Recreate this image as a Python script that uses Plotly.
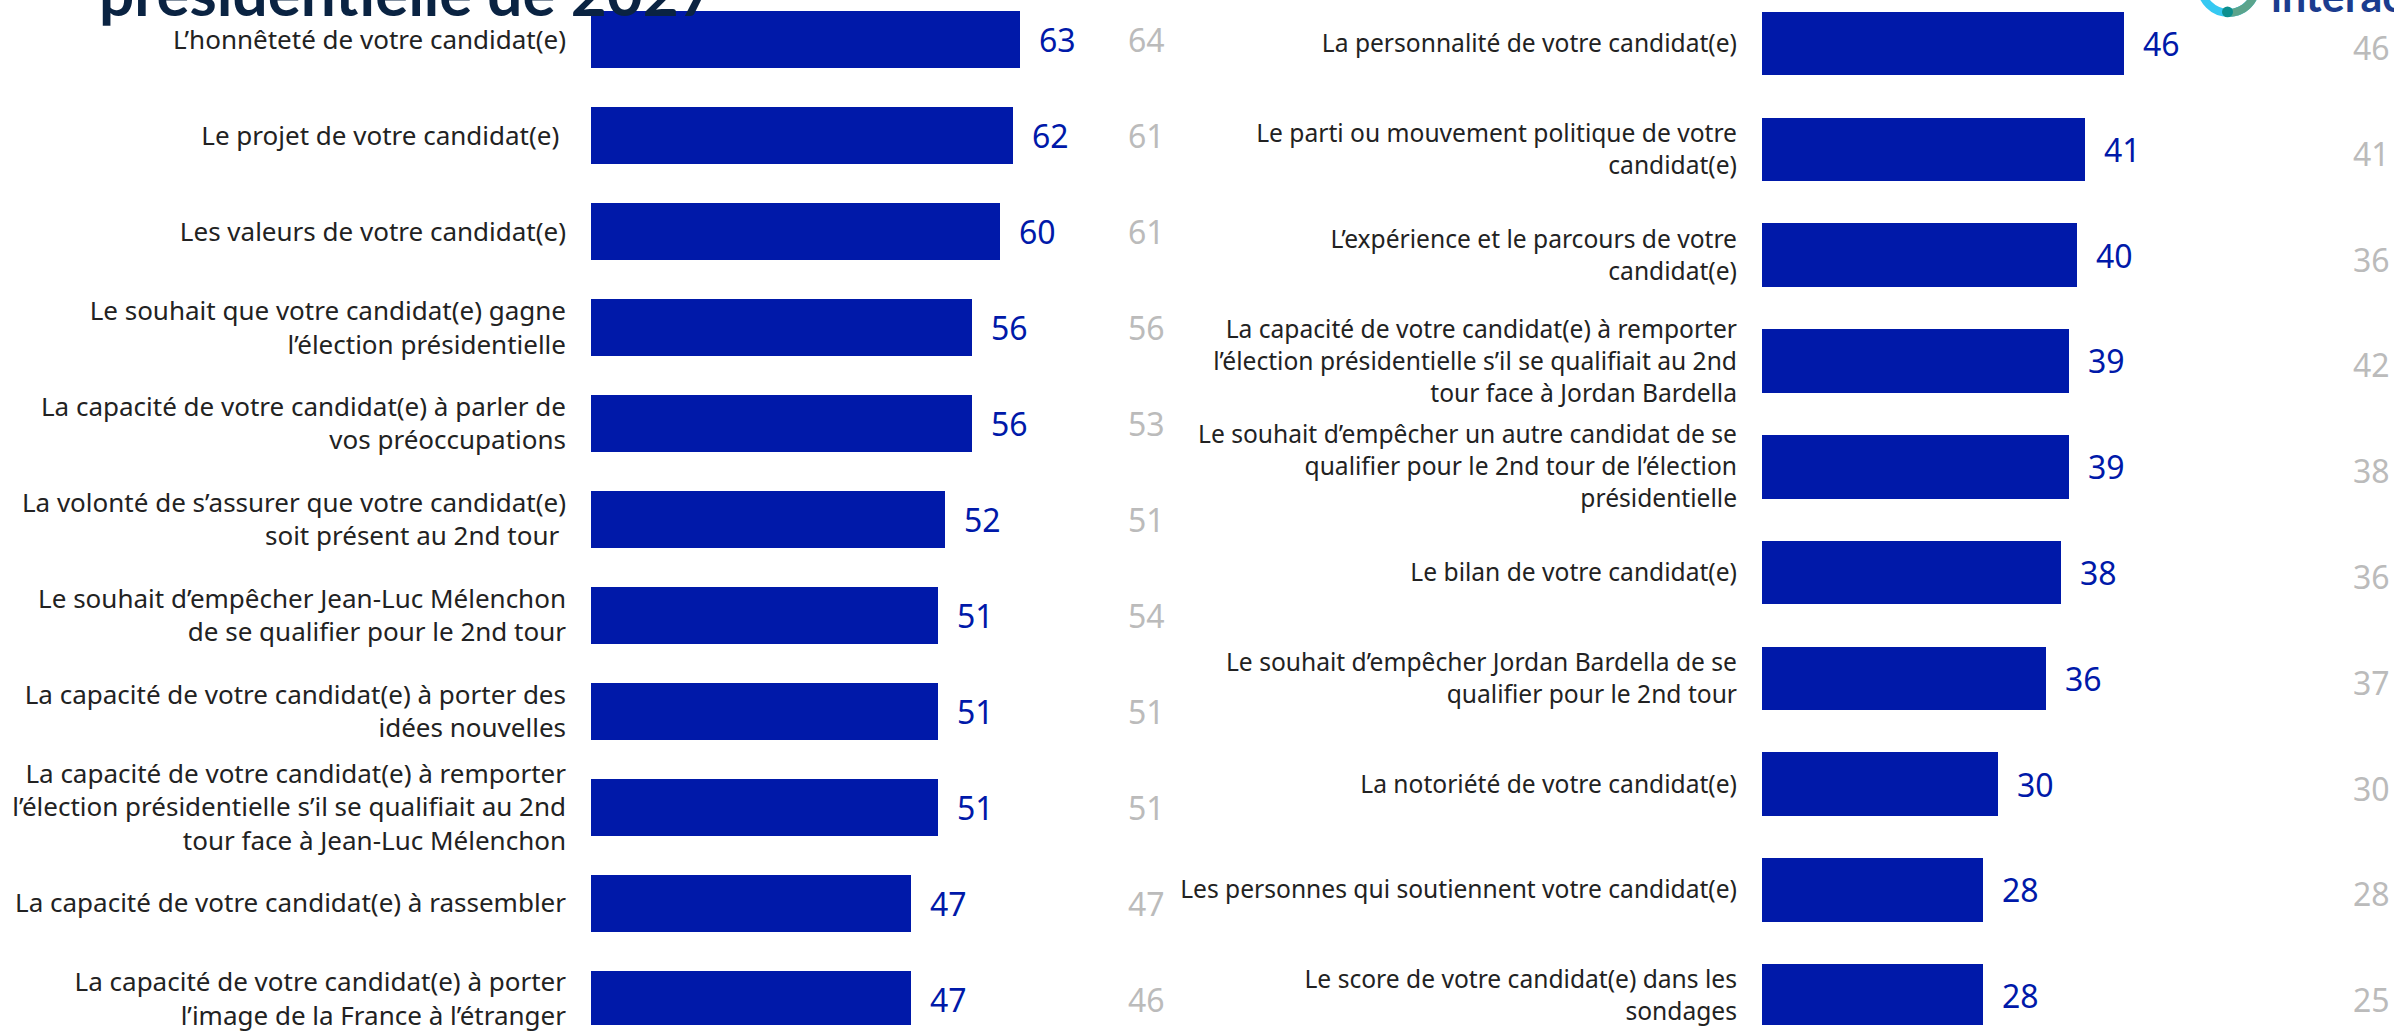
import numpy as np
import plotly.graph_objects as go

W, H = 2394, 1033

# ---------------- data ----------------
left_labels = [
    "L’honnêteté de votre candidat(e)",
    "Le projet de votre candidat(e) ",
    "Les valeurs de votre candidat(e)",
    "Le souhait que votre candidat(e) gagne<br>l’élection présidentielle",
    "La capacité de votre candidat(e) à parler de<br>vos préoccupations",
    "La volonté de s’assurer que votre candidat(e)<br>soit présent au 2nd tour ",
    "Le souhait d’empêcher Jean-Luc Mélenchon<br>de se qualifier pour le 2nd tour",
    "La capacité de votre candidat(e) à porter des<br>idées nouvelles",
    "La capacité de votre candidat(e) à remporter<br>l’élection présidentielle s’il se qualifiait au 2nd<br>tour face à Jean-Luc Mélenchon",
    "La capacité de votre candidat(e) à rassembler",
    "La capacité de votre candidat(e) à porter<br>l’image de la France à l’étranger",
]
left_values = [63, 62, 60, 56, 56, 52, 51, 51, 51, 47, 47]
left_previous = [64, 61, 61, 56, 53, 51, 54, 51, 51, 47, 46]

right_labels = [
    "La personnalité de votre candidat(e)",
    "Le parti ou mouvement politique de votre<br>candidat(e)",
    "L’expérience et le parcours de votre<br>candidat(e)",
    "La capacité de votre candidat(e) à remporter<br>l’élection présidentielle s’il se qualifiait au 2nd<br>tour face à Jordan Bardella",
    "Le souhait d’empêcher un autre candidat de se<br>qualifier pour le 2nd tour de l’élection<br>présidentielle",
    "Le bilan de votre candidat(e)",
    "Le souhait d’empêcher Jordan Bardella de se<br>qualifier pour le 2nd tour",
    "La notoriété de votre candidat(e)",
    "Les personnes qui soutiennent votre candidat(e)",
    "Le score de votre candidat(e) dans les<br>sondages",
]
right_values = [46, 41, 40, 39, 39, 38, 36, 30, 28, 28]
right_previous = [46, 41, 36, 42, 38, 36, 37, 30, 28, 25]

title_text = "présidentielle de 2027"
logo_text = "interactive"

# ---------------- styling ----------------
BLUE = "#0019A9"
GREY = "#BBBBBB"
LABEL = "#222222"
FONT = "Noto Sans"


def px(x):
    return x / W


def py(y):
    return 1 - y / H


# left panel geometry (pixels)
L_START, L_SCALE, L_MAX = 591, 6.81, 70
L_ROW0, L_PITCH = 40.0, 96.7
# right panel geometry
R_START, R_SCALE, R_MAX = 1762, 7.88, 70
R_ROW0, R_PITCH = 44.0, 106.6

fig = go.Figure()

fig.add_trace(go.Bar(
    x=left_values, y=left_labels, orientation="h",
    marker=dict(color=BLUE, line=dict(width=0)),
    width=57 / L_PITCH, xaxis="x", yaxis="y", hoverinfo="skip",
))
fig.add_trace(go.Bar(
    x=right_values, y=right_labels, orientation="h",
    marker=dict(color=BLUE, line=dict(width=0)),
    width=64 / R_PITCH, xaxis="x2", yaxis="y2", hoverinfo="skip",
))

annotations = []
for lab, v, p in zip(left_labels, left_values, left_previous):
    annotations.append(dict(x=v, y=lab, xref="x", yref="y", text=str(v),
                            xanchor="left", yanchor="middle", xshift=17,
                            showarrow=False, font=dict(size=32, color=BLUE, family=FONT)))
    annotations.append(dict(x=px(1146), y=lab, xref="paper", yref="y", text=str(p),
                            xanchor="center", yanchor="middle",
                            showarrow=False, font=dict(size=32, color=GREY, family=FONT)))
for lab, v, p in zip(right_labels, right_values, right_previous):
    annotations.append(dict(x=v, y=lab, xref="x2", yref="y2", text=str(v),
                            xanchor="left", yanchor="middle", xshift=17,
                            showarrow=False, font=dict(size=32, color=BLUE, family=FONT)))
    annotations.append(dict(x=px(2371), y=lab, xref="paper", yref="y2", text=str(p),
                            xanchor="center", yanchor="middle", yshift=-4,
                            showarrow=False, font=dict(size=32, color=GREY, family=FONT)))

# partially visible title (cut by the top edge)
annotations.append(dict(x=px(97), y=py(31), xref="paper", yref="paper", text=f"<b>{title_text}</b>",
                        xanchor="left", yanchor="bottom", showarrow=False,
                        font=dict(size=62, color="#0A2342", family="Lato")))
# partially visible logo text
annotations.append(dict(x=px(2269), y=py(23), xref="paper", yref="paper", text=f"<b>{logo_text}</b>",
                        xanchor="left", yanchor="bottom", showarrow=False,
                        font=dict(size=43, color="#1B3C8E", family="Lato")))

# logo ring
cx, cy, r = 2228.5, -14.5, 27.5
shapes = [dict(type="circle", xref="paper", yref="paper",
               x0=px(cx - r), x1=px(cx + r), y0=py(cy + r), y1=py(cy - r),
               line=dict(color="#36C9F2", width=8), layer="above")]
ang = np.linspace(0, np.pi / 2 - 0.05, 30)
pts = [(px(cx + r * np.cos(a)), py(cy + r * np.sin(a))) for a in ang]
path = "M " + " L ".join(f"{x:.5f},{y:.5f}" for x, y in pts)
shapes.append(dict(type="path", xref="paper", yref="paper", path=path,
                   line=dict(color="#5BA48C", width=8), layer="above"))
shapes.append(dict(type="circle", xref="paper", yref="paper",
                   x0=px(2222), x1=px(2233), y0=py(17.5), y1=py(6.5),
                   fillcolor="#0C8F8F", line=dict(width=0), layer="above"))

fig.update_layout(
    width=W, height=H,
    margin=dict(l=0, r=0, t=0, b=0),
    paper_bgcolor="white", plot_bgcolor="white",
    showlegend=False, bargap=0,
    font=dict(family=FONT, color=LABEL),
    xaxis=dict(domain=[px(L_START), px(L_START + L_MAX * L_SCALE)], range=[0, L_MAX],
               visible=False, anchor="y", fixedrange=True),
    yaxis=dict(domain=[0, 1], anchor="x", type="category",
               categoryorder="array", categoryarray=left_labels,
               range=[(H - L_ROW0) / L_PITCH, -L_ROW0 / L_PITCH], autorange=False,
               showgrid=False, zeroline=False, showline=False, ticks="",
               ticklabelstandoff=24,
               tickfont=dict(size=26, color=LABEL, family=FONT)),
    xaxis2=dict(domain=[px(R_START), px(R_START + R_MAX * R_SCALE)], range=[0, R_MAX],
                visible=False, anchor="y2", fixedrange=True),
    yaxis2=dict(domain=[0, 1], anchor="x2", type="category",
                categoryorder="array", categoryarray=right_labels,
                range=[(H - R_ROW0) / R_PITCH, -R_ROW0 / R_PITCH], autorange=False,
                showgrid=False, zeroline=False, showline=False, ticks="",
                ticklabelstandoff=24,
                tickfont=dict(size=24.6, color=LABEL, family=FONT)),
    annotations=annotations,
    shapes=shapes,
)

fig.write_html("out.html")
